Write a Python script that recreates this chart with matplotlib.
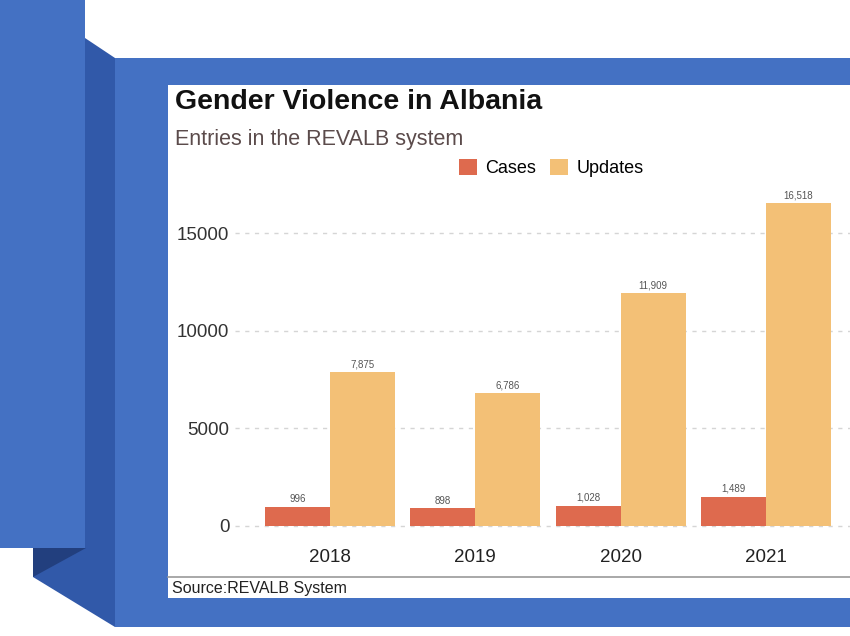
import numpy as np
import matplotlib
matplotlib.use("Agg")
import matplotlib.pyplot as plt
from matplotlib.patches import Polygon, Rectangle

years = ['2018', '2019', '2020', '2021']
cases = [996, 898, 1028, 1489]
updates = [7875, 6786, 11909, 16518]
yticks = [0, 5000, 10000, 15000]

W, H = 850, 636
plt.rcParams['font.family'] = ['Liberation Sans', 'DejaVu Sans']

fig = plt.figure(figsize=(W / 100, H / 100), dpi=100)
fig.patch.set_facecolor('white')

# slide decoration drawn in pixel coordinates
bg = fig.add_axes([0, 0, 1, 1])
bg.set_xlim(0, W)
bg.set_ylim(H, 0)
bg.axis('off')

blue = '#4471C3'
side = '#3159A9'
dark = '#223F7E'
bg.add_patch(Rectangle((0, 0), 85, 548, color=blue, lw=0))
bg.add_patch(Polygon([(85, 38), (115, 58), (115, 627), (33, 577), (33, 548), (85, 548)],
                     closed=True, color=side, lw=0))
bg.add_patch(Polygon([(33, 548), (86, 548), (33, 577)], closed=True, color=dark, lw=0))
bg.add_patch(Rectangle((115, 58), W - 115, 569, color=blue, lw=0))
bg.add_patch(Rectangle((168, 85), W - 168, 513, color='white', lw=0))
bg.plot([168, W], [577, 577], color='#9a9a9a', lw=1.2)

def fx(x):
    return x / W

def fy(y):
    return 1 - y / H

# titles, legend, source
fig.text(fx(175), fy(102), 'Gender Violence in Albania', fontsize=20.5, fontweight='bold',
         color='#111111', va='center', ha='left')
fig.text(fx(175), fy(140), 'Entries in the REVALB system', fontsize=15.5,
         color='#5b4b4b', va='center', ha='left')
fig.text(fx(172), fy(589), 'Source:REVALB System', fontsize=11.5,
         color='#222222', va='center', ha='left')

c_cases = '#DE6A4E'
c_upd = '#F3C076'

# chart
ax_l, ax_r, ax_t, ax_b = 235, W, 185, 535
ax = fig.add_axes([fx(ax_l), fy(ax_b), fx(ax_r - ax_l), (ax_b - ax_t) / H])
ax.set_facecolor('none')

x = np.arange(len(years))
bw = 0.448
b1 = ax.bar(x - bw / 2, cases, bw, color=c_cases, label='Cases', zorder=3)
b2 = ax.bar(x + bw / 2, updates, bw, color=c_upd, label='Updates', zorder=3)

for bars, vals in [(b1, cases), (b2, updates)]:
    for b, v in zip(bars, vals):
        ax.text(b.get_x() + b.get_width() / 2, v + 150, f'{v:,}', ha='center', va='bottom',
                fontsize=7, color='#555555')

ax.set_xlim(-0.654, 3.579)
ax.set_ylim(-461, 17460)
ax.set_yticks(yticks)
ax.set_yticklabels([str(t) for t in yticks], fontsize=13.5, color='#333333')
ax.set_xticks(x)
ax.set_xticklabels(years, fontsize=13.5, color='#222222')
ax.tick_params(axis='both', length=0)
ax.tick_params(axis='x', pad=10)
ax.tick_params(axis='y', pad=4)
ax.yaxis.grid(True, linestyle=(0, (3, 4)), color='#d5d5d5', lw=1, zorder=0)
for s in ax.spines.values():
    s.set_visible(False)

leg = fig.legend(handles=[b1, b2], loc='center', bbox_to_anchor=(fx(551), fy(168)), ncol=2,
                 frameon=False, fontsize=13, handlelength=1.0, handleheight=1.0,
                 handletextpad=0.45, columnspacing=0.8)

fig.savefig('out.png', dpi=100)
